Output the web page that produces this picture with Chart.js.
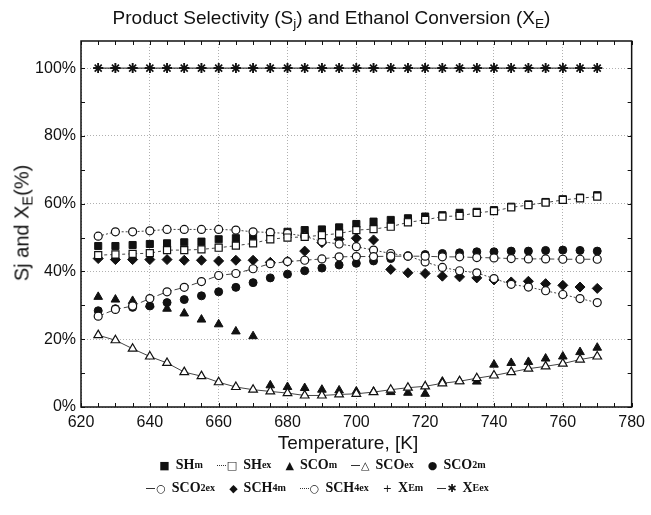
<!DOCTYPE html>
<html>
<head>
<meta charset="utf-8">
<script src="https://cdn.jsdelivr.net/npm/chart.js@4.4.0/dist/chart.umd.min.js"></script>
<style>
body { margin: 0; background: #fff; }
#wrap { position: relative; width: 651px; height: 515px; font-family: "Liberation Sans", Arial, sans-serif; color: #111; }
#chart { position: absolute; left: 0; top: 0; }
sub { font-size: 0.72em; vertical-align: -0.3em; line-height: 0; }
.title { position: absolute; left: 6px; width: 651px; top: 7px; text-align: center; font-size: 19px; }
.ytitle { position: absolute; left: 22px; top: 223px; transform: translate(-50%, -50%) rotate(-90deg); font-size: 20px; white-space: nowrap; }
.xtitle { position: absolute; left: 348px; top: 443px; transform: translate(-50%, -50%); font-size: 19px; white-space: nowrap; }
.legend { position: absolute; width: 651px; display: flex; justify-content: center; align-items: center; white-space: nowrap;
  font-family: "Liberation Serif", "Times New Roman", serif; font-weight: bold; font-size: 14px; }
.item { margin: 0 7px; display: inline-flex; align-items: center; }
.mk { font-family: "DejaVu Sans", sans-serif; font-weight: normal; font-size: 11px; margin-right: 6px; }
.ln { display: inline-block; width: 9px; height: 0; border-top: 1px solid #333; margin-right: 1px; }
.ln.dot { border-top-style: dotted; }
</style>
</head>
<body>
<div id="wrap">
  <canvas id="chart" width="651" height="515"></canvas>
  <div class="title">Product Selectivity (S<sub>j</sub>) and Ethanol Conversion (X<sub>E</sub>)</div>
  <div class="ytitle">Sj and X<sub>E</sub>(%)</div>
  <div class="xtitle">Temperature, [K]</div>
  <div class="legend" style="top:457px; left:-3px">
    <span class="item"><span class="mk">■</span>SH<sub>m</sub></span>
    <span class="item"><span class="ln dot"></span><span class="mk">□</span>SH<sub>ex</sub></span>
    <span class="item"><span class="mk">▲</span>SCO<sub>m</sub></span>
    <span class="item"><span class="ln"></span><span class="mk">△</span>SCO<sub>ex</sub></span>
    <span class="item"><span class="mk">●</span>SCO<sub>2m</sub></span>
  </div>
  <div class="legend" style="top:480px; left:-8px">
    <span class="item"><span class="ln"></span><span class="mk">○</span>SCO<sub>2ex</sub></span>
    <span class="item"><span class="mk">◆</span>SCH<sub>4m</sub></span>
    <span class="item"><span class="ln dot"></span><span class="mk">○</span>SCH<sub>4ex</sub></span>
    <span class="item"><span class="mk">+</span>X<sub>Em</sub></span>
    <span class="item"><span class="ln"></span><span class="mk">✱</span>X<sub>Eex</sub></span>
  </div>
</div>
<script>
const temps = [625, 630, 635, 640, 645, 650, 655, 660, 665, 670, 675, 680, 685, 690, 695,
               700, 705, 710, 715, 720, 725, 730, 735, 740, 745, 750, 755, 760, 765, 770];

const SHm    = [47.5, 47.5, 47.8, 48.1, 48.3, 48.6, 48.8, 49.5, 49.8, 50.4, 51.4, 51.7, 52.2, 52.4, 53.0,
                54.0, 54.7, 55.2, 55.7, 56.2, 56.6, 57.3, 57.6, 58.1, 59.1, 59.8, 60.5, 61.3, 61.8, 62.5];
const SHex   = [44.8, 45.0, 45.2, 45.4, 46.3, 46.3, 46.5, 47.0, 47.6, 48.3, 49.5, 50.0, 50.2, 50.7, 51.2,
                52.2, 52.5, 53.2, 54.5, 55.2, 56.2, 56.4, 57.3, 57.8, 58.9, 59.6, 60.3, 61.1, 61.6, 62.1];
const SCOm   = [32.5, 31.7, 31.3, 30.2, 29.0, 27.6, 25.8, 24.4, 22.3, 20.9, 6.4, 5.9, 5.6, 5.1, 4.9,
                4.6, 4.5, 4.4, 4.2, 3.9, 7.5, 7.6, 7.5, 12.5, 13.0, 13.3, 14.3, 14.9, 16.2, 17.5];
const SCOex  = [21.2, 19.7, 17.2, 14.9, 13.0, 10.3, 9.1, 7.3, 5.9, 5.1, 4.6, 4.1, 3.4, 3.4, 3.7,
                3.9, 4.4, 5.1, 5.7, 6.1, 7.0, 7.6, 8.5, 9.3, 10.3, 11.3, 12.0, 12.8, 14.0, 14.9];
const SCO2m  = [28.4, 29.0, 29.4, 29.8, 30.8, 31.7, 32.8, 34.0, 35.3, 36.7, 38.1, 39.2, 40.2, 41.0, 41.9,
                42.4, 43.1, 43.8, 44.5, 45.0, 45.3, 45.5, 45.8, 45.8, 46.0, 46.0, 46.2, 46.3, 46.2, 46.0];
const SCO2ex = [26.8, 28.8, 29.8, 32.0, 34.0, 35.3, 37.0, 38.8, 39.4, 40.8, 42.3, 42.9, 43.3, 43.7, 44.3,
                44.4, 44.4, 44.5, 44.5, 44.5, 44.3, 44.3, 44.1, 44.0, 43.8, 43.7, 43.7, 43.6, 43.6, 43.6];
const SCH4m  = [43.8, 43.5, 43.5, 43.5, 43.5, 43.3, 43.3, 43.1, 43.3, 43.3, 42.7, 43.0, 46.0, 48.5, 49.5,
                49.8, 49.3, 40.6, 39.6, 39.4, 38.6, 38.4, 38.1, 37.5, 36.9, 37.1, 36.4, 35.9, 35.4, 35.0];
const SCH4ex = [50.4, 51.7, 51.7, 52.0, 52.4, 52.4, 52.4, 52.4, 52.2, 51.7, 51.5, 51.2, 50.4, 48.8, 48.1,
                47.3, 46.3, 45.3, 44.6, 42.8, 41.2, 40.2, 39.6, 37.9, 36.2, 35.4, 34.3, 33.2, 32.0, 30.8];
const XEm    = [100, 100, 100, 100, 100, 100, 100, 100, 100, 100, 100, 100, 100, 100, 100,
                100, 100, 100, 100, 100, 100, 100, 100, 100, 100, 100, 100, 100, 100, 100];
const XEex   = [100, 100, 100, 100, 100, 100, 100, 100, 100, 100, 100, 100, 100, 100, 100,
                100, 100, 100, 100, 100, 100, 100, 100, 100, 100, 100, 100, 100, 100, 100];

const xTicks = [620, 640, 660, 680, 700, 720, 740, 760, 780];
const yTicks = [0, 20, 40, 60, 80, 100];

function pts(vals) {
    return temps.map((t, i) => ({ x: t, y: vals[i] }));
}

function measured(label, vals, style, radius) {
    return {
        label: label, data: pts(vals), showLine: false, order: 2,
        pointStyle: style, pointRadius: radius,
        pointBackgroundColor: '#111', pointBorderColor: '#111', pointBorderWidth: 1
    };
}

function model(label, vals, style, radius, dash) {
    return {
        label: label, data: pts(vals), showLine: true, order: 1,
        borderColor: '#444', borderWidth: 1, borderDash: dash,
        pointStyle: style, pointRadius: radius,
        pointBackgroundColor: '#fff', pointBorderColor: '#111', pointBorderWidth: 1.2
    };
}

const xePlus = measured('XEm', XEm, 'cross', 5);
xePlus.pointBorderWidth = 1.5;
xePlus.order = 3;
const xeStar = model('XEex', XEex, 'star', 5, []);
xeStar.pointBorderWidth = 1.6;
xeStar.borderColor = '#111';

// frame and small inward ticks round the plot
const frame = {
    id: 'frame',
    afterDraw(chart) {
        const { ctx, chartArea: a, scales: { x, y } } = chart;
        ctx.save();
        ctx.strokeStyle = '#111';
        ctx.lineWidth = 1;
        for (let t = 620; t <= 780; t += 5) {
            const px = Math.round(x.getPixelForValue(t)) + 0.5;
            ctx.beginPath();
            ctx.moveTo(px, a.bottom); ctx.lineTo(px, a.bottom - 4);
            ctx.moveTo(px, a.top); ctx.lineTo(px, a.top + 4);
            ctx.stroke();
        }
        for (let v = 0; v <= 100; v += 10) {
            const py = Math.round(y.getPixelForValue(v)) + 0.5;
            ctx.beginPath();
            ctx.moveTo(a.left, py); ctx.lineTo(a.left + 4, py);
            ctx.moveTo(a.right, py); ctx.lineTo(a.right - 4, py);
            ctx.stroke();
        }
        ctx.lineWidth = 1.5;
        ctx.strokeRect(a.left, a.top, a.right - a.left, a.bottom - a.top);
        ctx.restore();
    }
};

new Chart(document.getElementById('chart'), {
    type: 'scatter',
    data: {
        datasets: [
            measured('SHm', SHm, 'rect', 5),
            model('SHex', SHex, 'rect', 5, [3, 3]),
            measured('SCOm', SCOm, 'triangle', 5),
            model('SCOex', SCOex, 'triangle', 5, []),
            measured('SCO2m', SCO2m, 'circle', 4),
            model('SCO2ex', SCO2ex, 'circle', 4, [6, 3]),
            measured('SCH4m', SCH4m, 'rectRot', 5),
            model('SCH4ex', SCH4ex, 'circle', 4, [2, 2]),
            xePlus,
            xeStar
        ]
    },
    options: {
        responsive: false,
        animation: false,
        layout: { padding: { top: 41, right: 13, left: 0, bottom: 0 } },
        plugins: { legend: { display: false }, tooltip: { enabled: false } },
        scales: {
            x: {
                type: 'linear', min: 620, max: 780,
                afterBuildTicks: s => { s.ticks = xTicks.map(v => ({ value: v })); },
                afterFit: s => { s.height = 108; },
                ticks: { font: { size: 16, family: 'Liberation Sans' }, color: '#111', padding: 6 },
                grid: { color: '#b0b0b0', drawTicks: false },
                border: { display: false, dash: [1, 2] }
            },
            y: {
                min: 0, max: 108,
                afterBuildTicks: s => { s.ticks = yTicks.map(v => ({ value: v })); },
                afterFit: s => { s.width = 81; },
                ticks: {
                    font: { size: 16, family: 'Liberation Sans' }, color: '#111', padding: 5,
                    callback: v => v + '%'
                },
                grid: { color: '#b0b0b0', drawTicks: false },
                border: { display: false, dash: [1, 2] }
            }
        }
    },
    plugins: [frame]
});
</script>
</body>
</html>
